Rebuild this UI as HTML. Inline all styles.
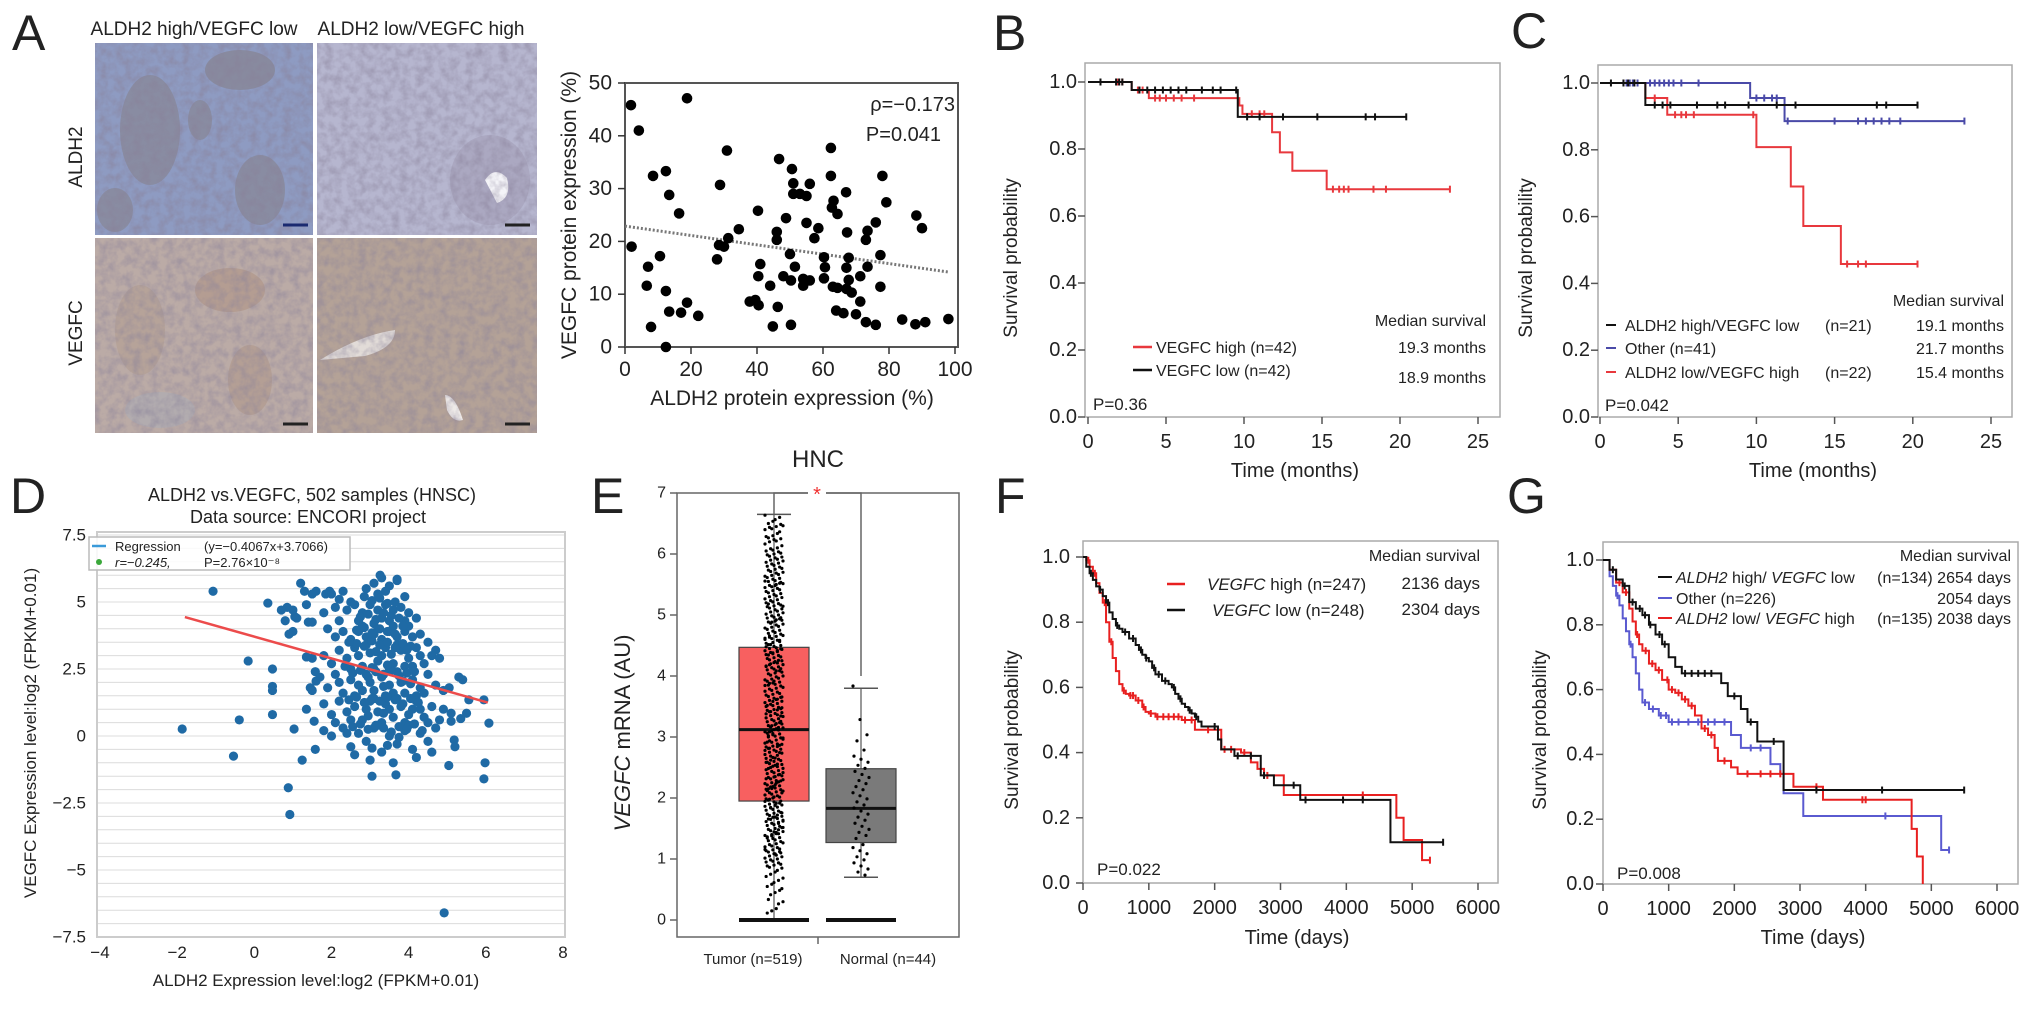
<!DOCTYPE html>
<html><head><meta charset="utf-8"><title>Figure</title>
<style>
html,body{margin:0;padding:0;background:#fff;}
svg{display:block;font-family:"Liberation Sans",Arial,sans-serif;}
text{fill:#222;}
</style></head>
<body>
<svg id="fig" xmlns="http://www.w3.org/2000/svg" width="2032" height="1018" viewBox="0 0 2032 1018">
<defs>
<filter id="tex" x="0" y="0" width="100%" height="100%">
<feTurbulence type="fractalNoise" baseFrequency="0.12" numOctaves="3" seed="4"/>
<feColorMatrix type="matrix" values="0 0 0 0 0.25  0 0 0 0 0.22  0 0 0 0 0.32  0 0 0 1.6 -0.55"/>
</filter>
</defs>
<rect x="0" y="0" width="2032" height="1018" fill="#fff"/>

<g font-size="50">
<text x="12" y="50">A</text>
<text x="993" y="50">B</text>
<text x="1511" y="48">C</text>
<text x="10" y="513">D</text>
<text x="591" y="513">E</text>
<text x="995" y="513">F</text>
<text x="1507" y="513">G</text>
</g>

<g>
<text x="194" y="35" font-size="19" text-anchor="middle">ALDH2 high/VEGFC low</text>
<text x="421" y="35" font-size="19" text-anchor="middle">ALDH2 low/VEGFC high</text>
<text transform="translate(82,157) rotate(-90)" font-size="19" text-anchor="middle">ALDH2</text>
<text transform="translate(82,333) rotate(-90)" font-size="19" text-anchor="middle">VEGFC</text>

<g>
<rect x="95" y="43" width="218" height="192" fill="#8e9bc2"/>
<ellipse cx="150" cy="130" rx="30" ry="55" fill="#7d6a5a" opacity="0.3"/>
<ellipse cx="240" cy="70" rx="35" ry="20" fill="#7a6550" opacity="0.3"/>
<ellipse cx="260" cy="190" rx="25" ry="35" fill="#7d6a5a" opacity="0.3"/>
<ellipse cx="115" cy="210" rx="18" ry="22" fill="#7d6a5a" opacity="0.3"/>
<ellipse cx="200" cy="120" rx="12" ry="20" fill="#7d6a5a" opacity="0.3"/>
<rect x="95" y="43" width="218" height="192" filter="url(#tex)" opacity="0.7"/>
<line x1="283" y1="225" x2="308" y2="225" stroke="#1a2a70" stroke-width="3"/>
</g>
<g>
<rect x="317" y="43" width="220" height="192" fill="#b6b6cf"/>
<ellipse cx="490" cy="180" rx="40" ry="45" fill="#8a8098" opacity="0.25"/>
<path d="M 485 180 q 10 -15 22 -2 q 5 20 -10 25 z" fill="#f4f4f8"/>
<rect x="317" y="43" width="220" height="192" filter="url(#tex)" opacity="0.6"/>
<line x1="505" y1="225" x2="530" y2="225" stroke="#222" stroke-width="3"/>
</g>
<g>
<rect x="95" y="238" width="218" height="195" fill="#bbaba6"/>
<ellipse cx="230" cy="290" rx="35" ry="22" fill="#a57e62" opacity="0.3"/>
<ellipse cx="140" cy="330" rx="25" ry="45" fill="#a88a72" opacity="0.25"/>
<ellipse cx="250" cy="380" rx="22" ry="35" fill="#a07a62" opacity="0.25"/>
<ellipse cx="160" cy="410" rx="35" ry="18" fill="#9eafc5" opacity="0.3"/>
<rect x="95" y="238" width="218" height="195" filter="url(#tex)" opacity="0.6"/>
<line x1="283" y1="424" x2="308" y2="424" stroke="#222" stroke-width="3"/>
</g>
<g>
<rect x="317" y="238" width="220" height="195" fill="#b4a297"/>
<path d="M 320 360 q 40 -25 75 -30 q 0 18 -30 26 z" fill="#e2dcd8"/>
<path d="M 445 395 q 10 0 18 25 q -10 3 -16 -10 z" fill="#eeeae8"/>
<rect x="317" y="238" width="220" height="195" filter="url(#tex)" opacity="0.6"/>
<line x1="505" y1="424" x2="530" y2="424" stroke="#222" stroke-width="3"/>
</g>
</g>

<g>
<rect x="625" y="83" width="333" height="264" fill="none" stroke="#555" stroke-width="2"/>
<text transform="translate(576,215) rotate(-90)" font-size="21" text-anchor="middle">VEGFC protein expression (%)</text>
<text x="792" y="405" font-size="21" text-anchor="middle">ALDH2 protein expression (%)</text>
<text x="955" y="111" font-size="20" text-anchor="end">ρ=−0.173</text>
<text x="941" y="141" font-size="20" text-anchor="end">P=0.041</text>
</g>

<g>
<rect x="1085" y="63" width="415" height="354" fill="none" stroke="#aaa" stroke-width="1.5"/>
<text transform="translate(1017,258) rotate(-90)" font-size="19" text-anchor="middle">Survival probability</text>
<text x="1295" y="477" font-size="20" text-anchor="middle">Time (months)</text>
<line x1="1133" y1="347" x2="1152" y2="347" stroke="#e8383d" stroke-width="2.5"/>
<text x="1156" y="353" font-size="16">VEGFC high  (n=42)</text>
<line x1="1133" y1="370" x2="1152" y2="370" stroke="#111" stroke-width="2.5"/>
<text x="1156" y="376" font-size="16">VEGFC low    (n=42)</text>
<text x="1486" y="326" font-size="16" text-anchor="end">Median survival</text>
<text x="1486" y="353" font-size="16" text-anchor="end">19.3 months</text>
<text x="1486" y="383" font-size="16" text-anchor="end">18.9 months</text>
<text x="1093" y="410" font-size="17">P=0.36</text>
</g>

<g>
<rect x="1598" y="65" width="414" height="352" fill="none" stroke="#aaa" stroke-width="1.5"/>
<text transform="translate(1532,258) rotate(-90)" font-size="19" text-anchor="middle">Survival probability</text>
<text x="1813" y="477" font-size="20" text-anchor="middle">Time (months)</text>
<text x="2004" y="306" font-size="16" text-anchor="end">Median survival</text>
<line x1="1606" y1="325" x2="1616" y2="325" stroke="#111" stroke-width="2"/>
<text x="1625" y="331" font-size="16">ALDH2 high/VEGFC low</text>
<text x="1825" y="331" font-size="16">(n=21)</text>
<text x="2004" y="331" font-size="16" text-anchor="end">19.1 months</text>
<line x1="1606" y1="348" x2="1616" y2="348" stroke="#4a4aa8" stroke-width="2"/>
<text x="1625" y="354" font-size="16">Other (n=41)</text>
<text x="2004" y="354" font-size="16" text-anchor="end">21.7 months</text>
<line x1="1606" y1="372" x2="1616" y2="372" stroke="#e8383d" stroke-width="2"/>
<text x="1625" y="378" font-size="16">ALDH2 low/VEGFC high</text>
<text x="1825" y="378" font-size="16">(n=22)</text>
<text x="2004" y="378" font-size="16" text-anchor="end">15.4 months</text>
<text x="1605" y="411" font-size="17">P=0.042</text>
</g>

<g>
<text x="312" y="501" font-size="18" text-anchor="middle">ALDH2 vs.VEGFC, 502 samples (HNSC)</text>
<text x="308" y="523" font-size="18" text-anchor="middle">Data source: ENCORI project</text>
<g id="dGrid"></g>
<rect x="97" y="532" width="468" height="405" fill="none" stroke="#ccc" stroke-width="2"/>
<text transform="translate(36,733) rotate(-90)" font-size="17" text-anchor="middle">VEGFC Expression level:log2 (FPKM+0.01)</text>
<text x="316" y="986" font-size="17" text-anchor="middle">ALDH2 Expression level:log2 (FPKM+0.01)</text>
</g>

<g>
<text x="818" y="467" font-size="24" text-anchor="middle">HNC</text>
<rect x="677" y="493" width="282" height="444" fill="none" stroke="#666" stroke-width="1.5"/>
<text transform="translate(630,733) rotate(-90)" font-size="22" text-anchor="middle"><tspan font-style="italic">VEGFC</tspan> mRNA (AU)</text>
<line x1="818" y1="937" x2="818" y2="944" stroke="#666" stroke-width="1.5"/>
<text x="753" y="964" font-size="15" text-anchor="middle">Tumor (n=519)</text>
<text x="888" y="964" font-size="15" text-anchor="middle">Normal (n=44)</text>
</g>

<g>
<rect x="1083" y="541" width="415" height="342" fill="none" stroke="#aaa" stroke-width="1.5"/>
<text transform="translate(1018,730) rotate(-90)" font-size="19" text-anchor="middle">Survival probability</text>
<text x="1297" y="944" font-size="20" text-anchor="middle">Time (days)</text>
<text x="1480" y="561" font-size="16" text-anchor="end">Median survival</text>
<line x1="1167" y1="584" x2="1185" y2="584" stroke="#e82020" stroke-width="2.5"/>
<text x="1207" y="590" font-size="17"><tspan font-style="italic">VEGFC</tspan> high (n=247)</text>
<text x="1480" y="589" font-size="17" text-anchor="end">2136 days</text>
<line x1="1167" y1="610" x2="1185" y2="610" stroke="#111" stroke-width="2.5"/>
<text x="1212" y="616" font-size="17"><tspan font-style="italic">VEGFC</tspan> low  (n=248)</text>
<text x="1480" y="615" font-size="17" text-anchor="end">2304 days</text>
<text x="1097" y="875" font-size="17">P=0.022</text>
</g>

<g>
<rect x="1603" y="542" width="415" height="342" fill="none" stroke="#aaa" stroke-width="1.5"/>
<text transform="translate(1546,730) rotate(-90)" font-size="19" text-anchor="middle">Survival probability</text>
<text x="1813" y="944" font-size="20" text-anchor="middle">Time (days)</text>
<text x="2011" y="561" font-size="16" text-anchor="end">Median survival</text>
<line x1="1658" y1="577" x2="1672" y2="577" stroke="#111" stroke-width="2"/>
<text x="1676" y="583" font-size="16"><tspan font-style="italic">ALDH2</tspan> high/ <tspan font-style="italic">VEGFC</tspan> low</text>
<text x="2011" y="583" font-size="16" text-anchor="end">(n=134) 2654 days</text>
<line x1="1658" y1="598" x2="1672" y2="598" stroke="#5a5ad0" stroke-width="2"/>
<text x="1676" y="604" font-size="16">Other (n=226)</text>
<text x="2011" y="604" font-size="16" text-anchor="end">2054 days</text>
<line x1="1658" y1="618" x2="1672" y2="618" stroke="#e82020" stroke-width="2"/>
<text x="1676" y="624" font-size="16"><tspan font-style="italic">ALDH2</tspan> low/ <tspan font-style="italic">VEGFC</tspan> high</text>
<text x="2011" y="624" font-size="16" text-anchor="end">(n=135) 2038 days</text>
<text x="1617" y="879" font-size="17">P=0.008</text>
</g>
</svg>

<script>
// ---------- Panel A scatter data ----------
const aX = [1.8,4.2,2,18.8,30.9,8.5,12.4,13.4,16.4,28.8,34.5,31.3,28.5,30,27.9,10.6,7,6.6,12.4,13.4,17,18.8,22.2,7.9,12.4,46.7,50.6,51,55,56,51,53,40.3,48.8,46,46,55,58.6,57.4,50,51.5,41,40.4,44,48,50.3,54,56,54,37.8,39.5,40.5,46.3,44.8,50.3,62.4,62.4,63.2,62.7,64.4,67,67.3,60.3,60.6,60.3,63,64.4,67.8,67.1,67.8,67.1,68.7,71.3,71.3,64,66.2,70,73,76,73.5,73,73.5,76,77.4,77.4,78,79.2,84,88,91,98,88.3,90];
const aY = [45.8,41,19,47.1,37.2,32.4,33.3,28.8,25.3,30.7,22.3,20.6,19.3,19,16.6,17.2,15.2,11.6,10.6,6.7,6.5,8.4,5.9,3.8,0,35.6,33.7,31,28.6,30.9,29,29,25.8,24.4,21.8,20.3,23.5,22.5,20.6,17.6,15.2,15.7,13.4,11.6,13.4,12.6,12.9,12.6,11.6,8.6,8.9,7.9,7.6,3.9,4.2,37.7,32.4,27.7,26.4,25.2,29.3,21.7,17,15.1,13,11.4,11.2,16.9,15,12.7,11,10.3,8.6,13.4,6.9,6.4,6.2,4.7,4.2,15.2,20.3,22,23.6,17.4,11.4,32.4,27.4,5.2,4.3,4.7,5.3,24.9,22.5];
const aRegX = [0, 98];
const aRegY = [22.9, 14.2];
const aXTicks = [0,20,40,60,80,100];
const aXTickLabels = ['0','20','40','60','80','100'];
const aYTicks = [0,10,20,30,40,50];
const aYTickLabels = ['0','10','20','30','40','50'];

// ---------- Panel B KM data (months) ----------
const bTicksX = [0,5,10,15,20,25];
const bTickLabelsX = ['0','5','10','15','20','25'];
const kmTicksY = [0,0.2,0.4,0.6,0.8,1.0];
const kmTickLabelsY = ['0.0','0.2','0.4','0.6','0.8','1.0'];
const bLowTimes = [2.8,9.6];
const bLowSurv = [0.976,0.896];
const bLowEnd = 20.4;
const bLowCensor = [0.8,1.8,2.0,2.2,3.3,3.8,4.3,4.8,5.3,5.8,6.3,7.3,8.0,8.5,9.5,10.2,11.0,12.5,14.7,17.8,18.4,20.4];
const bHighTimes = [2.8,3.9,9.7,9.9,11.8,12.3,13.1,15.3];
const bHighSurv = [0.976,0.952,0.93,0.905,0.85,0.79,0.735,0.68];
const bHighEnd = 23.2;
const bHighCensor = [1.9,2.2,3.2,3.5,4.3,4.6,5.0,5.5,6.0,6.8,10.5,11.0,11.3,15.7,16.1,16.4,16.7,18.3,19.1,23.2];

// ---------- Panel C KM data (months) ----------
const cHLTimes = [2.9];
const cHLSurv = [0.934];
const cHLEnd = 20.3;
const cHLCensor = [0.7,1.5,1.8,2.2,3.5,4.0,4.5,6.2,7.5,8.0,9.5,11.3,12.5,17.7,18.3,20.3];
const cOtherTimes = [9.6,11.8];
const cOtherSurv = [0.955,0.886];
const cOtherEnd = 23.3;
const cOtherCensor = [1.5,1.7,1.9,2.1,2.4,3.2,3.5,3.8,4.1,4.4,4.7,5.2,6.3,10.0,10.5,11.0,11.3,12.0,15.0,16.5,17.0,17.5,18.0,18.5,19.2,23.3];
const cLHTimes = [2.9,4.3,10.0,12.2,13.0,15.4];
const cLHSurv = [0.955,0.905,0.808,0.69,0.572,0.458];
const cLHEnd = 20.3;
const cLHCensor = [3.5,4.8,5.2,5.5,6.0,9.8,15.8,16.5,17.0,20.3];

// ---------- Panel D scatter data ----------
const dX = [-1.07,-1.87,-0.54,-0.39,-0.16,0.35,0.47,0.47,0.47,0.47,0.88,0.92,1.03,1.24,1.58,3.05,3.67,4.92,5.04,5.95,5.98,6.08,5.95,5.56,5.3,5.4,5.18,5.2,5.1,5.1,5.05,5.5,5.35,3.26,3.7,1.2,0.85,0.7,1.0,0.8,1.05,1.1,1.35,1.0,0.9,1.4,1.5,1.6,1.85,1.95,1.5,1.3,1.45,1.5,1.35,1.55,1.58,1.6,1.5,1.35,
 2.9,3.1,3.3,3.5,3.7,3.9,2.2,2.5,3.2,3.4,2.0,2.3,
 1.8,2.1,2.4,2.6,2.8,3.0,3.2,3.4,3.6,3.8,4.0,4.2,3.3,2.7,3.1,3.5,3.9,2.2,
 1.9,2.1,2.3,2.5,2.7,2.9,3.1,3.3,3.5,3.7,3.9,4.1,4.3,4.5,2.8,3.2,3.6,4.0,4.7,4.6,4.8,
 1.8,2.0,2.2,2.4,2.6,2.8,3.0,3.2,3.4,3.6,3.8,4.0,4.2,4.4,2.5,2.9,3.3,3.7,4.1,4.3,2.7,3.1,3.5,3.9,
 1.7,1.9,2.1,2.3,2.5,2.7,2.9,3.1,3.3,3.5,3.7,3.9,4.1,4.3,4.5,4.7,2.6,3.0,3.4,3.8,4.2,2.2,2.8,3.6,4.4,4.9,
 1.8,2.0,2.2,2.4,2.6,2.8,3.0,3.2,3.4,3.6,3.8,4.0,4.2,4.4,4.6,4.8,2.1,2.5,2.9,3.3,3.7,4.1,4.5,4.9,3.1,3.5,3.9,4.3,
 1.8,2.0,2.3,2.5,2.7,2.9,3.1,3.3,3.5,3.7,3.9,4.1,4.3,4.5,4.7,4.2,3.0,2.6,3.6,4.6,3.2,4.0,2.4,
 2.75,2.95,3.15,3.35,3.55,3.75,3.05,3.25,3.45,3.65,2.85,3.85,
 2.65,2.85,3.05,3.25,3.45,3.65,3.85,4.05,2.45,3.15,3.55,3.95,
 2.55,2.75,2.95,3.15,3.35,3.55,3.75,3.95,4.15,2.35,3.05,3.45,
 2.45,2.65,2.85,3.05,3.25,3.45,3.65,3.85,4.05,4.25,2.95,3.35,
 2.55,2.75,2.95,3.15,3.35,3.55,3.75,3.95,4.15,4.35,3.05,3.45,
 2.65,2.85,3.05,3.25,3.45,3.65,3.85,4.05,3.35,3.75];
const dY = [5.4,0.26,-0.75,0.6,2.8,4.96,2.5,1.85,1.7,0.8,-1.93,-2.93,0.26,-0.9,-0.5,-1.5,-1.45,-6.6,-1.1,-1.6,-1.0,0.48,1.35,1.35,2.2,2.1,-0.15,-0.4,0.55,0.85,1.8,0.85,0.65,6.0,5.85,5.7,4.8,4.7,4.7,4.3,4.45,4.4,4.9,3.9,3.8,4.25,4.25,5.4,5.3,5.4,5.3,5.4,1.8,1.7,1.0,0.55,2.4,2.05,2.9,2.95,
 5.5,5.7,5.9,5.6,5.8,5.2,5.1,5.0,5.3,5.4,5.3,5.4,
 4.6,4.8,4.7,4.9,4.6,4.9,4.7,4.9,4.7,4.8,4.6,4.4,4.4,4.3,4.2,4.3,4.3,4.3,
 4.0,3.7,3.9,3.6,3.9,3.7,3.8,3.6,3.9,3.7,3.9,3.7,3.8,3.5,4.1,4.0,4.1,4.1,3.2,3.0,2.9,
 3.0,2.7,3.2,2.9,3.3,2.6,3.1,2.8,3.3,2.7,3.2,2.9,3.3,2.7,2.5,3.4,3.0,3.4,2.6,3.0,3.0,2.5,2.5,2.6,
 2.2,1.8,2.3,1.6,2.1,1.9,2.3,1.7,2.2,1.9,2.4,1.6,2.1,1.8,2.3,1.9,1.5,2.0,1.5,2.0,1.5,2.0,1.7,1.6,1.6,1.7,
 1.2,0.8,1.3,0.9,1.1,0.6,1.3,0.9,1.2,0.7,1.1,0.8,1.3,0.7,1.1,0.6,0.5,0.6,1.0,0.5,1.4,1.0,0.5,1.0,1.4,1.0,0.5,1.0,
 0.2,0.0,0.3,-0.4,0.1,-0.2,0.3,-0.6,0.0,-0.3,0.2,-0.5,0.1,-0.2,0.3,-0.8,-0.9,-0.7,-1.0,-0.6,0.4,0.4,0.1,
 4.45,4.55,4.35,4.6,4.5,4.4,5.05,5.15,4.95,5.0,5.2,4.1,
 3.45,3.35,3.55,3.4,3.5,3.3,3.45,3.35,3.5,3.15,3.05,3.2,
 2.35,2.45,2.2,2.4,2.3,2.45,2.25,2.35,2.4,2.6,2.55,2.65,
 1.35,1.45,1.25,1.4,1.3,1.45,1.35,1.2,1.4,1.25,0.75,0.85,
 0.35,0.45,0.25,0.4,0.3,0.15,0.35,0.25,0.45,0.2,-0.45,-0.35,
 3.95,4.05,3.85,4.0,3.9,3.8,2.05,1.95,1.85,-0.05];
const dRegSlope = -0.4067;
const dRegIntercept = 3.7066;
const dRegRange = [-1.8, 6.05];
const dXTicks = [-4,-2,0,2,4,6,8];
const dXTickLabels = ['−4','−2','0','2','4','6','8'];
const dYTicks = [-7.5,-5,-2.5,0,2.5,5,7.5];
const dYTickLabels = ['−7.5','−5','−2.5','0','2.5','5','7.5'];

// ---------- Panel E box plot data ----------
const eCategories = ['Tumor','Normal'];
const eQ1 = [1.95,1.27];
const eMedian = [3.12,1.83];
const eQ3 = [4.47,2.48];
const eWhiskHi = [6.65,3.8];
const eWhiskLo = [0.0,0.7];
const eTumorValues = [6.6,6.5,6.45,6.4,6.3,6.25,6.2,6.1,6.05,6.0,5.95,5.9,5.85,5.8,5.75,5.7,5.65,5.6,5.55,5.5,5.45,5.4,5.35,5.3,5.25,5.2,5.15,5.1,5.05,5.0,4.95,4.9,4.85,4.8,4.75,4.7,4.65,4.6,4.55,4.5,4.45,4.4,4.35,4.3,4.25,4.2,4.15,4.1,4.05,4.0,3.95,3.9,3.85,3.8,3.75,3.7,3.65,3.6,3.55,3.5,3.45,3.4,3.35,3.3,3.25,3.2,3.15,3.1,3.05,3.0,2.95,2.9,2.85,2.8,2.75,2.7,2.65,2.6,2.55,2.5,2.45,2.4,2.35,2.3,2.25,2.2,2.15,2.1,2.05,2.0,1.95,1.9,1.85,1.8,1.75,1.7,1.65,1.6,1.55,1.5,1.45,1.4,1.35,1.3,1.25,1.2,1.15,1.1,1.05,1.0,0.95,0.9,0.85,0.75,0.65,0.55,0.45,0.3,0.15,
 5.52,5.18,4.92,4.62,4.38,4.12,3.88,3.62,3.38,3.12,2.88,2.62,2.38,2.12,1.88,1.62,1.38,1.12,3.02,3.22,2.78,2.52,2.28,1.98,1.72,4.48,4.22,3.48,2.18,1.48];
const eNormalValues = [3.8,3.25,3.0,2.9,2.75,2.65,2.6,2.55,2.5,2.45,2.4,2.35,2.3,2.25,2.2,2.15,2.1,2.05,2.0,1.95,1.9,1.85,1.8,1.75,1.7,1.65,1.6,1.55,1.5,1.45,1.4,1.35,1.3,1.2,1.15,1.1,1.05,1.0,0.95,0.9,0.85,0.8,0.75,0.7];
const eSigLevel = 7;
const eYTicks = [0,1,2,3,4,5,6,7];
const eYTickLabels = ['0','1','2','3','4','5','6','7'];

// ---------- Panel F KM data (days) ----------
const fgTicksX = [0,1000,2000,3000,4000,5000,6000];
const fgTickLabelsX = ['0','1000','2000','3000','4000','5000','6000'];
const fLowTimes = [50,100,150,200,250,300,350,400,450,500,550,600,700,800,850,900,950,1000,1050,1100,1200,1300,1350,1400,1450,1500,1550,1600,1650,1700,1750,1800,2050,2100,2300,2700,2900,3300,4670];
const fLowSurv = [0.97,0.95,0.93,0.91,0.90,0.88,0.86,0.83,0.81,0.79,0.78,0.77,0.75,0.73,0.715,0.70,0.69,0.68,0.66,0.64,0.62,0.61,0.60,0.58,0.565,0.55,0.54,0.53,0.52,0.51,0.495,0.48,0.44,0.41,0.39,0.33,0.30,0.255,0.125];
const fLowEnd = 5470;
const fLowCensor = [120,260,380,520,640,760,880,960,1080,1150,1250,1380,1480,1620,1720,2000,2350,2550,2750,3200,3380,3950,4250,5470];
const fHighTimes = [50,100,150,200,250,300,350,400,450,500,550,600,650,700,800,900,950,1000,1100,1500,1700,2100,2400,2550,2650,2750,3050,4760,4870,5150];
const fHighSurv = [0.99,0.97,0.95,0.92,0.89,0.86,0.80,0.74,0.69,0.65,0.61,0.59,0.58,0.575,0.56,0.54,0.525,0.52,0.51,0.50,0.47,0.41,0.40,0.37,0.35,0.33,0.27,0.20,0.132,0.07];
const fHighEnd = 5270;
const fHighCensor = [80,180,330,430,620,720,760,840,920,1030,1130,1220,1300,1380,1450,1550,1650,1900,2150,2250,2450,2800,4250,5270];

// ---------- Panel G KM data (days) ----------
const gHLTimes = [100,200,300,400,500,600,700,800,900,1000,1100,1200,1800,1900,2100,2200,2350,2750];
const gHLSurv = [0.97,0.94,0.92,0.87,0.85,0.83,0.80,0.77,0.74,0.70,0.67,0.65,0.62,0.58,0.54,0.50,0.44,0.29];
const gHLEnd = 5500;
const gHLCensor = [150,330,450,560,640,720,860,940,1250,1350,1450,1550,1650,2000,2250,2600,3250,4250,5500];
const gOtherTimes = [100,150,200,250,300,350,400,450,500,550,600,700,850,1000,1950,2100,2550,2700,2750,3050,5150];
const gOtherSurv = [0.95,0.92,0.89,0.86,0.82,0.78,0.74,0.70,0.65,0.60,0.56,0.54,0.52,0.50,0.46,0.42,0.37,0.34,0.28,0.21,0.105];
const gOtherEnd = 5270;
const gOtherCensor = [220,420,640,760,880,960,1050,1150,1300,1450,1600,1700,1850,2250,2400,4300,5270];
const gLHTimes = [100,200,300,400,450,500,550,600,700,800,900,1000,1100,1200,1300,1400,1500,1600,1700,1750,1950,2050,2900,3350,4700,4780,4870];
const gLHSurv = [0.97,0.93,0.90,0.85,0.81,0.77,0.74,0.72,0.68,0.66,0.63,0.60,0.59,0.57,0.55,0.52,0.48,0.46,0.42,0.38,0.36,0.34,0.30,0.26,0.17,0.085,0.0];
const gLHEnd = 4870;
const gLHCensor = [250,350,520,650,750,850,980,1050,1150,1250,1350,1550,1650,1850,2200,2400,2550,2700,3250,3950,4000];

// ---------- helpers ----------
const NS = 'http://www.w3.org/2000/svg';
const fig = document.getElementById('fig');
function mk(tag, attrs, parent, txt) {
  const e = document.createElementNS(NS, tag);
  for (const k in attrs) e.setAttribute(k, attrs[k]);
  if (txt !== undefined) e.textContent = txt;
  (parent || fig).appendChild(e);
  return e;
}
function lin(d0, d1, p0, p1) { return v => p0 + (v - d0) * (p1 - p0) / (d1 - d0); }
function group(name) {
  const g = mk('g', {});
  
  
  return g;
}
function yTicks(name, vals, labels, ys, axX, len, lblX, fs, col) {
  const g = group(name);
  vals.forEach((v, i) => {
    const l = mk('line', {x1: axX - len, x2: axX, y1: ys(v), y2: ys(v), stroke: col, 'stroke-width': 1.5}, g);
    
    
    const t = mk('text', {x: lblX, y: ys(v), 'font-size': fs, 'text-anchor': 'end', 'dominant-baseline': 'central'}, g, labels[i]);
    
    
  });
}
function xTicks(name, vals, labels, xs, axY, len, lblY, fs, col) {
  const g = group(name);
  vals.forEach((v, i) => {
    const l = mk('line', {x1: xs(v), x2: xs(v), y1: axY, y2: axY + len, stroke: col, 'stroke-width': 1.5}, g);
    
    
    const t = mk('text', {x: xs(v), y: lblY, 'font-size': fs, 'text-anchor': 'middle'}, g, labels[i]);
    
    
  });
}
function survAt(times, surv, t) {
  let s = 1;
  for (let i = 0; i < times.length; i++) if (times[i] <= t) s = surv[i];
  return s;
}
function km(name, times, surv, endT, censor, xs, ys, color, w) {
  const g = group(name);
  let d = 'M' + xs(0) + ',' + ys(1);
  times.forEach((t, i) => { d += ' H' + xs(t) + ' V' + ys(surv[i]); });
  d += ' H' + xs(endT);
  const p = mk('path', {d: d, fill: 'none', stroke: color, 'stroke-width': w}, g);
  
  
  censor.forEach(t => {
    const y = ys(survAt(times, surv, t));
    const c = mk('line', {x1: xs(t), x2: xs(t), y1: y - 3.5, y2: y + 3.5, stroke: color, 'stroke-width': 2}, g);
    
    
  });
}

// ---------- Panel A scatter ----------
const xA = lin(0, 100, 625, 955), yA = lin(0, 50, 347, 83);
yTicks('scatter-a-y-axis', aYTicks, aYTickLabels, yA, 625, 7, 612, 21, '#333');
xTicks('scatter-a-x-axis', aXTicks, aXTickLabels, xA, 347, 7, 376, 21, '#333');
const aReg = mk('line', {x1: xA(aRegX[0]), y1: yA(aRegY[0]), x2: xA(aRegX[1]), y2: yA(aRegY[1]), stroke: '#777', 'stroke-width': 3, 'stroke-dasharray': '2 2'});


const aPts = group('scatter-a-points');
aX.forEach((v, i) => {
  const c = mk('circle', {cx: xA(v), cy: yA(aY[i]), r: 5.3, fill: '#000'}, aPts);
  
  
});

// ---------- Panel B ----------
const xB = lin(0, 25, 1088, 1478), yB = lin(0, 1, 417, 82);
yTicks('km-b-y-axis', kmTicksY, kmTickLabelsY, yB, 1085, 7, 1077, 20, '#555');
xTicks('km-b-x-axis', bTicksX, bTickLabelsX, xB, 417, 7, 448, 20, '#555');
km('km-b-vegfc-high', bHighTimes, bHighSurv, bHighEnd, bHighCensor, xB, yB, '#e8383d', 2);
km('km-b-vegfc-low', bLowTimes, bLowSurv, bLowEnd, bLowCensor, xB, yB, '#111', 2);

// ---------- Panel C ----------
const xC = lin(0, 25, 1600, 1991), yC = lin(0, 1, 417, 83);
yTicks('km-c-y-axis', kmTicksY, kmTickLabelsY, yC, 1598, 7, 1590, 20, '#555');
xTicks('km-c-x-axis', bTicksX, bTickLabelsX, xC, 417, 7, 448, 20, '#555');
km('km-c-other', cOtherTimes, cOtherSurv, cOtherEnd, cOtherCensor, xC, yC, '#4a4aa8', 2);
km('km-c-aldh2-low-vegfc-high', cLHTimes, cLHSurv, cLHEnd, cLHCensor, xC, yC, '#e8383d', 2);
km('km-c-aldh2-high-vegfc-low', cHLTimes, cHLSurv, cHLEnd, cHLCensor, xC, yC, '#111', 2);

// ---------- Panel D ----------
const xD = lin(-4, 8, 100, 563), yD = lin(-7.5, 7.5, 937, 535);
const dGrid = document.getElementById('dGrid');
for (let v = -7.5; v <= 7.5; v += 0.5) {
  const gl = mk('line', {x1: 97, x2: 565, y1: yD(v), y2: yD(v), stroke: '#dcdcdc', 'stroke-width': 1}, dGrid);
  
  
}
yTicks('scatter-d-y-axis', dYTicks, dYTickLabels, yD, 97, 0, 86, 17, '#999');
xTicks('scatter-d-x-axis', dXTicks, dXTickLabels, xD, 937, 0, 958, 17, '#999');
const dPts = group('scatter-d-points');
dX.forEach((v, i) => {
  const c = mk('circle', {cx: xD(v), cy: yD(dY[i]), r: 4.6, fill: '#1f6aa5'}, dPts);
  
  
});
const dReg = mk('line', {x1: xD(dRegRange[0]), y1: yD(dRegSlope * dRegRange[0] + dRegIntercept), x2: xD(dRegRange[1]), y2: yD(dRegSlope * dRegRange[1] + dRegIntercept), stroke: '#ec4b4b', 'stroke-width': 2.5});


const dLeg = group('scatter-d-legend');
const dLegBox = mk('rect', {x: 89, y: 537, width: 261, height: 33, fill: '#fff', 'fill-opacity': 0.85, stroke: '#bbb', 'stroke-width': 1.5}, dLeg);


const dLegLine = mk('line', {x1: 92, x2: 106, y1: 546, y2: 546, stroke: '#3a9ad9', 'stroke-width': 2.5}, dLeg);


const dLegT1 = mk('text', {x: 115, y: 551, 'font-size': 13}, dLeg, 'Regression');


const dLegT2 = mk('text', {x: 204, y: 551, 'font-size': 13}, dLeg, '(y=−0.4067x+3.7066)');


const dLegDot = mk('circle', {cx: 99, cy: 562, r: 3, fill: '#3aa83a'}, dLeg);


const dLegT3 = mk('text', {x: 115, y: 567, 'font-size': 13, 'font-style': 'italic'}, dLeg, 'r=−0.245,');


const dLegT4 = mk('text', {x: 204, y: 567, 'font-size': 13}, dLeg, 'P=2.76×10⁻⁸');



// ---------- Panel E ----------
const yE = lin(0, 7, 920, 493);
const eCatX = [774, 861];
const eHalf = 35;
yTicks('boxplot-e-y-axis', eYTicks, eYTickLabels, yE, 677, 7, 666, 16, '#666');
const eBoxes = group('boxplot-e-boxes');
const eFills = ['#f86060', '#7a7a7a'];
eCategories.forEach((c, i) => {
  const cx = eCatX[i];
  const w1 = mk('line', {x1: cx, x2: cx, y1: yE(eWhiskHi[i]), y2: yE(eWhiskLo[i]), stroke: '#555', 'stroke-width': 1.2}, eBoxes);
  
  
  const capHi = mk('line', {x1: cx - 17, x2: cx + 17, y1: yE(eWhiskHi[i]), y2: yE(eWhiskHi[i]), stroke: '#555', 'stroke-width': 1.5}, eBoxes);
  
  
  const capLo = mk('line', {x1: cx - 17, x2: cx + 17, y1: yE(eWhiskLo[i]), y2: yE(eWhiskLo[i]), stroke: '#555', 'stroke-width': 1.5}, eBoxes);
  
  
  const b = mk('rect', {x: cx - eHalf, y: yE(eQ3[i]), width: eHalf * 2, height: yE(eQ1[i]) - yE(eQ3[i]), fill: eFills[i], stroke: '#444', 'stroke-width': 1.2}, eBoxes);
  
  
  const zb = mk('line', {x1: cx - eHalf, x2: cx + eHalf, y1: yE(0), y2: yE(0), stroke: '#111', 'stroke-width': 4}, eBoxes);
  
  
});
const eDots = group('boxplot-e-jitter-points');
function jitterDots(vals, cx, spread, copies) {
  vals.forEach((v, i) => {
    for (let k = 0; k < copies; k++) {
      const off = (((i * 7 + k * 13) % 17) - 8) / 8 * spread;
      const dd = mk('circle', {cx: cx + off, cy: yE(v) + (k - 1) * 2.2, r: 1.6, fill: '#000'}, eDots);
      
      
    }
  });
}
jitterDots(eTumorValues, eCatX[0], 9, 3);
jitterDots(eNormalValues, eCatX[1], 8, 1);
eCategories.forEach((c, i) => {
  const m = mk('line', {x1: eCatX[i] - eHalf, x2: eCatX[i] + eHalf, y1: yE(eMedian[i]), y2: yE(eMedian[i]), stroke: '#111', 'stroke-width': 3}, eBoxes);
  
  
});
const eBr = mk('path', {d: 'M' + eCatX[0] + ',' + yE(eWhiskHi[0]) + ' V' + yE(eSigLevel) + ' H' + eCatX[1] + ' V' + yE(4.0), fill: 'none', stroke: '#666', 'stroke-width': 1.5});


const eStarBg = mk('rect', {x: 808, y: yE(eSigLevel) - 5, width: 18, height: 10, fill: '#fff'});


const eStar = mk('text', {x: 817, y: yE(eSigLevel) + 8, 'font-size': 20, 'text-anchor': 'middle', fill: '#f03030', style: 'fill:#f03030'}, fig, '*');



// ---------- Panel F ----------
const xF = lin(0, 6000, 1083, 1478), yF = lin(0, 1, 883, 557);
yTicks('km-f-y-axis', kmTicksY, kmTickLabelsY, yF, 1083, 7, 1070, 20, '#555');
xTicks('km-f-x-axis', fgTicksX, fgTickLabelsX, xF, 883, 7, 914, 20, '#555');
km('km-f-vegfc-high', fHighTimes, fHighSurv, fHighEnd, fHighCensor, xF, yF, '#e82020', 2);
km('km-f-vegfc-low', fLowTimes, fLowSurv, fLowEnd, fLowCensor, xF, yF, '#111', 2);

// ---------- Panel G ----------
const xG = lin(0, 6000, 1603, 1997), yG = lin(0, 1, 884, 560);
yTicks('km-g-y-axis', kmTicksY, kmTickLabelsY, yG, 1603, 7, 1594, 20, '#555');
xTicks('km-g-x-axis', fgTicksX, fgTickLabelsX, xG, 884, 7, 915, 20, '#555');
km('km-g-other', gOtherTimes, gOtherSurv, gOtherEnd, gOtherCensor, xG, yG, '#5a5ad0', 2);
km('km-g-aldh2-low-vegfc-high', gLHTimes, gLHSurv, gLHEnd, gLHCensor, xG, yG, '#e82020', 2);
km('km-g-aldh2-high-vegfc-low', gHLTimes, gHLSurv, gHLEnd, gHLCensor, xG, yG, '#111', 2);
</script>
</body></html>
